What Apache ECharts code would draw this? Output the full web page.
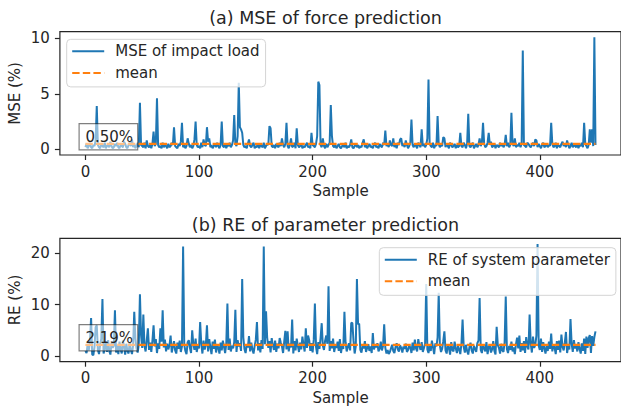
<!DOCTYPE html>
<html>
<head>
<meta charset="utf-8">
<script src="https://cdn.jsdelivr.net/npm/echarts@6/dist/echarts.min.js"></script>
<style>
  html, body { margin: 0; padding: 0; background: #fff; }
  #chart { width: 621px; height: 407px; }
</style>
</head>
<body>
<div id="chart"></div>
<script>
// MSE of impact load per sample (%)
const mseValues = [
  0.2,0.5,0.1,0.3,0.6,0.2,0.1,0.4,0.3,0.8,
  3.9,0.4,0.2,0.1,0.5,0.3,0.2,0.6,0.1,0.3,
  0.4,0.2,0.7,0.3,0.1,0.2,0.5,0.3,0.6,0.2,
  0.1,0.4,0.3,0.2,0.7,0.5,0.2,0.1,0.4,0.6,
  0.3,0.9,0.2,0.5,0.1,0.3,0.6,0.2,4.2,0.4,
  0.3,0.2,0.6,0.1,0.8,0.3,0.2,0.4,0.1,0.5,
  1.6,0.3,0.5,4.6,0.4,0.2,0.3,0.1,0.6,0.2,
  0.4,0.3,0.1,0.5,0.2,0.3,0.6,0.4,2.0,0.3,
  0.2,0.1,0.5,0.3,0.7,2.4,0.2,0.4,0.1,0.3,
  1.0,0.5,0.2,0.4,0.1,0.3,0.9,2.5,0.4,0.2,
  0.3,0.1,0.6,0.2,0.9,0.4,0.3,2.0,0.7,1.0,
  0.2,0.4,0.1,0.3,0.5,0.2,0.6,0.3,0.1,0.4,
  2.5,0.3,0.2,0.5,0.1,0.4,0.3,0.6,0.2,0.4,
  0.8,3.1,0.5,0.3,1.2,6.0,2.0,1.8,1.5,0.4,
  0.2,0.3,0.1,0.5,0.9,0.3,0.2,0.4,0.6,0.1,
  0.3,0.2,0.5,0.1,0.4,0.3,0.2,0.6,0.1,0.3,
  0.5,0.4,2.1,1.9,0.3,0.2,0.4,0.1,0.5,0.3,
  0.2,0.6,0.3,1.0,0.4,0.2,0.5,2.4,0.3,0.1,
  0.4,1.0,0.2,0.3,0.6,0.1,1.9,0.4,0.2,0.3,
  0.5,0.1,0.3,0.2,0.4,0.6,0.2,0.3,0.1,1.5,
  0.4,0.3,0.2,0.5,1.2,6.1,5.8,0.4,0.2,1.0,
  0.3,0.1,0.5,0.2,0.4,0.6,4.0,1.2,0.3,0.2,
  0.4,0.1,0.3,0.5,0.2,0.1,0.3,0.4,0.2,0.6,
  0.1,0.3,0.2,0.4,0.9,0.2,0.1,0.3,0.5,0.2,
  0.4,0.1,0.3,0.2,0.6,0.9,0.2,0.4,0.1,0.3,
  0.5,0.2,0.3,0.1,0.4,0.6,0.2,0.3,0.1,0.5,
  0.3,0.2,0.6,0.4,1.7,0.3,0.5,0.2,0.8,0.4,
  0.3,1.0,0.2,0.5,0.1,0.6,0.4,0.9,1.0,0.3,
  0.5,0.2,0.8,0.4,0.1,0.3,0.6,2.7,0.4,0.2,
  0.5,0.3,0.1,0.6,0.4,0.2,1.8,0.3,0.5,0.2,
  0.4,1.0,6.3,0.5,0.3,0.2,0.6,0.1,0.4,0.3,
  3.0,0.5,0.2,0.4,0.3,1.1,1.0,0.2,0.5,0.3,
  0.1,0.6,0.4,0.2,0.3,0.5,0.1,0.4,0.2,0.3,
  1.5,0.3,0.2,0.6,0.4,0.1,0.5,3.2,0.3,0.2,
  0.4,0.6,0.1,0.3,0.5,0.2,0.4,1.0,0.3,0.6,
  2.4,0.5,0.2,0.3,0.6,1.5,0.4,0.7,0.2,0.3,
  0.5,0.1,0.4,0.3,0.2,0.6,0.3,0.5,0.2,0.4,
  1.3,0.3,0.6,0.2,0.4,3.3,0.5,0.3,1.0,0.2,
  0.4,0.3,0.6,0.2,0.5,8.9,0.4,0.3,0.2,0.6,
  0.5,0.3,0.2,0.4,0.6,0.3,0.9,0.8,0.2,0.5,
  0.3,0.1,0.4,0.6,0.2,0.3,0.5,0.2,0.4,0.3,
  2.4,0.5,0.2,0.3,0.6,0.1,0.4,0.3,0.2,0.5,
  0.7,0.3,0.5,0.2,0.8,0.4,0.1,0.3,0.6,0.2,
  0.4,0.3,0.2,0.5,0.1,0.4,0.3,0.6,0.2,2.4,
  0.5,0.3,0.1,0.4,1.8,0.6,1.8,0.3,10.1,0.4
];

// RE of system parameter per sample (%)
const reValues = [
  1.0,0.6,2.4,1.1,3.0,7.4,0.3,0.2,1.8,5.6,
  6.0,1.2,0.4,2.3,3.4,11.1,0.5,1.4,2.9,0.8,
  3.1,1.0,0.3,2.6,1.6,2.0,8.9,0.7,2.1,0.4,
  2.8,1.3,0.5,3.0,1.9,0.3,2.4,1.0,0.5,2.7,
  1.2,0.4,2.1,8.6,3.4,1.5,0.7,2.3,12.0,4.0,
  1.6,8.1,2.0,0.9,3.1,5.4,1.2,2.6,0.8,3.0,
  6.0,1.9,3.3,0.6,2.5,1.4,5.4,2.8,8.9,1.7,
  3.2,0.9,2.4,1.3,2.1,4.0,0.7,1.8,2.9,1.1,
  0.5,2.6,1.4,3.0,0.8,1.9,21.3,2.2,1.0,0.4,
  2.7,3.1,1.6,0.6,5.0,2.3,1.2,3.4,0.8,2.0,
  1.5,6.6,2.4,0.5,3.0,1.3,2.1,6.0,0.9,3.3,
  1.7,0.4,2.8,1.4,3.2,0.7,2.2,1.6,0.5,2.6,
  1.1,3.0,1.8,0.6,2.4,10.2,1.2,3.4,0.9,2.0,
  1.5,2.7,9.0,0.8,3.1,1.9,2.5,1.0,15.0,3.6,
  1.4,0.6,2.2,1.7,3.9,0.9,2.6,1.3,0.5,2.0,
  3.2,6.6,1.1,2.5,0.7,3.1,1.4,21.3,2.3,8.7,
  3.6,1.6,2.9,0.7,3.5,2.1,1.2,3.0,0.8,2.4,
  1.5,3.5,2.6,1.9,0.6,2.8,4.9,1.3,4.8,0.9,
  2.4,1.7,7.1,0.5,2.9,1.1,3.4,2.0,0.8,2.6,
  1.3,3.8,2.2,0.9,5.4,1.6,4.0,3.1,1.0,2.5,
  0.7,3.2,10.2,1.8,0.4,2.7,1.4,3.5,6.4,2.0,
  1.2,3.0,4.0,2.4,13.6,1.0,2.9,1.5,3.4,0.8,
  2.1,1.6,2.8,1.0,3.3,0.6,2.2,1.4,8.6,2.7,
  0.9,1.8,2.5,1.1,6.5,6.4,3.0,0.5,1.9,15.0,
  6.2,6.3,1.2,0.7,2.0,1.5,2.9,0.8,1.6,2.3,
  1.0,1.9,0.6,4.5,1.3,2.1,1.7,2.5,0.9,1.4,
  2.8,1.1,2.0,6.2,1.6,0.5,1.2,0.4,0.8,1.5,
  2.2,1.0,0.6,1.8,2.5,1.3,0.9,2.1,1.6,0.7,
  1.9,1.4,2.4,0.8,1.2,2.0,1.7,0.6,2.6,1.1,
  3.2,1.5,0.9,3.3,2.0,1.2,2.7,0.8,1.6,2.4,
  14.0,1.3,0.6,2.2,1.0,3.0,1.7,0.4,2.5,1.9,
  3.6,12.3,2.1,0.8,1.4,2.9,4.8,1.1,0.5,2.3,
  1.6,0.3,2.7,1.2,0.9,2.8,1.5,0.6,2.0,1.3,
  0.4,2.4,7.1,1.8,0.7,2.2,1.0,0.3,1.7,2.6,
  1.1,0.5,2.0,1.4,0.8,2.5,3.0,11.3,1.2,0.6,
  2.3,1.5,0.9,2.7,0.4,1.8,2.1,0.7,1.3,2.9,
  1.0,0.3,5.7,2.2,1.6,0.5,2.4,1.1,0.8,2.6,
  11.6,1.4,0.6,2.0,1.2,2.8,0.9,1.7,0.4,2.3,
  3.6,1.5,4.0,0.8,2.5,1.1,2.9,0.6,3.7,1.9,
  1.3,8.1,2.4,0.7,3.8,1.6,2.2,4.0,21.8,2.0,
  1.2,3.4,0.8,2.7,1.5,0.5,2.1,1.0,2.8,1.4,
  4.4,0.9,2.3,1.6,0.4,2.9,1.2,3.0,0.7,4.2,
  1.8,1.1,2.6,4.7,0.6,2.0,1.3,7.2,2.4,0.8,
  3.1,1.5,2.2,0.9,2.7,1.4,0.5,2.5,1.0,3.4,
  0.4,3.8,1.6,3.5,4.1,0.6,3.9,2.0,3.7,4.8
];

const meanMSE = 0.50;
const meanRE = 2.19;

const sampleTicks = [0, 100, 200, 300, 400];
const mseTicks = [0, 5, 10];
const reTicks = [0, 10, 20];

const FONT = 'DejaVu Sans';
const TXT = '#262626';
const BLUE = '#1f77b4';
const ORANGE = '#ff7f0e';

const chart = echarts.init(document.getElementById('chart'), null, { renderer: 'svg' });

function toPairs(vals) {
  return vals.map((v, i) => [i, v]);
}
function meanPairs(vals, m) {
  return [[0, m], [vals.length - 1, m]];
}

function xAxisFor(gridIndex) {
  return {
    type: 'value', gridIndex: gridIndex,
    min: -22.45, max: 471.45,
    axisLine: { show: false, onZero: false },
    splitLine: { show: false },
    axisTick: { show: true, customValues: sampleTicks, length: 5, lineStyle: { color: TXT, width: 1.2 } },
    axisLabel: { show: true, customValues: sampleTicks, margin: 9, color: TXT, fontSize: 15, fontFamily: FONT }
  };
}
function yAxisFor(gridIndex, min, max, ticks) {
  return {
    type: 'value', gridIndex: gridIndex,
    min: min, max: max,
    axisLine: { show: false, onZero: false },
    splitLine: { show: false },
    axisTick: { show: true, customValues: ticks, length: 5, lineStyle: { color: TXT, width: 1.2 } },
    axisLabel: { show: true, customValues: ticks, margin: 10, color: TXT, fontSize: 15, fontFamily: FONT }
  };
}
function legendAt(left, top, names) {
  return {
    data: names,
    orient: 'vertical',
    left: left, top: top,
    itemWidth: 32, itemHeight: 14, itemGap: 6.6,
    padding: [4.5, 6, 6.5, 4.5],
    backgroundColor: 'rgba(255,255,255,0.8)',
    borderColor: '#d4d4d4', borderWidth: 1, borderRadius: 4,
    itemStyle: { opacity: 0 },
    textStyle: { color: TXT, fontSize: 15, fontFamily: FONT, padding: [0, 0, 0, 6] }
  };
}

const option = {
  backgroundColor: '#fff',
  animation: false,
  grid: [
    { left: 59.9, top: 31.7, width: 561.5, height: 123.3, show: true, borderColor: TXT, borderWidth: 1.2, backgroundColor: '#fff' },
    { left: 59.9, top: 238.4, width: 561.5, height: 123.3, show: true, borderColor: TXT, borderWidth: 1.2, backgroundColor: '#fff' }
  ],
  xAxis: [xAxisFor(0), xAxisFor(1)],
  yAxis: [
    yAxisFor(0, -0.505, 10.605, mseTicks),
    yAxisFor(1, -1.09, 22.89, reTicks)
  ],
  legend: [
    legendAt(66.7, 39.3, ['MSE of impact load', 'mean']),
    legendAt(379.3, 247.7, ['RE of system parameter', 'mean '])
  ],
  series: [
    {
      name: 'MSE of impact load', type: 'line', xAxisIndex: 0, yAxisIndex: 0,
      data: toPairs(mseValues), symbol: 'none', z: 2,
      lineStyle: { color: BLUE, width: 2 }, itemStyle: { color: BLUE }
    },
    {
      name: 'mean', type: 'line', xAxisIndex: 0, yAxisIndex: 0,
      data: meanPairs(mseValues, meanMSE), symbol: 'none', z: 3,
      lineStyle: { color: ORANGE, width: 2.2, type: [7.4, 3.2] }, itemStyle: { color: ORANGE }
    },
    {
      name: 'RE of system parameter', type: 'line', xAxisIndex: 1, yAxisIndex: 1,
      data: toPairs(reValues), symbol: 'none', z: 2,
      lineStyle: { color: BLUE, width: 2 }, itemStyle: { color: BLUE }
    },
    {
      name: 'mean ', type: 'line', xAxisIndex: 1, yAxisIndex: 1,
      data: meanPairs(reValues, meanRE), symbol: 'none', z: 3,
      lineStyle: { color: ORANGE, width: 2.2, type: [7.4, 3.2] }, itemStyle: { color: ORANGE }
    }
  ]
};
chart.setOption(option);

function label(text, x, y, size, rot) {
  return {
    type: 'text', x: x, y: y, rotation: rot || 0, z: 100,
    style: { text: text, fill: TXT, fontSize: size, fontFamily: FONT, align: 'center', verticalAlign: 'middle' }
  };
}
function meanNote(gridIndex, m) {
  const p = chart.convertToPixel({ gridIndex: gridIndex }, [0, m]);
  return [
    {
      type: 'rect', z: 100,
      shape: { x: p[0] - 6.3, y: p[1] - 20.2, width: 58.6, height: 26.3 },
      style: { fill: 'rgba(255,255,255,0.5)', stroke: 'rgba(0,0,0,0.5)', lineWidth: 1.2 }
    },
    {
      type: 'text', z: 101, x: p[0], y: p[1] - 7.2,
      style: { text: m.toFixed(2) + '%', fill: TXT, fontSize: 15, fontFamily: FONT, align: 'left', verticalAlign: 'middle' }
    }
  ];
}

chart.setOption({
  graphic: [
    label('(a) MSE of force prediction', 325.5, 18.3, 17.5),
    label('(b) RE of parameter prediction', 325.5, 225, 17.5),
    label('MSE (%)', 15, 93.4, 15, Math.PI / 2),
    label('RE (%)', 15, 300, 15, Math.PI / 2),
    label('Sample', 340.5, 191.3, 15),
    label('Sample', 340.5, 398, 15)
  ].concat(meanNote(0, meanMSE), meanNote(1, meanRE))
});
</script>
</body>
</html>
